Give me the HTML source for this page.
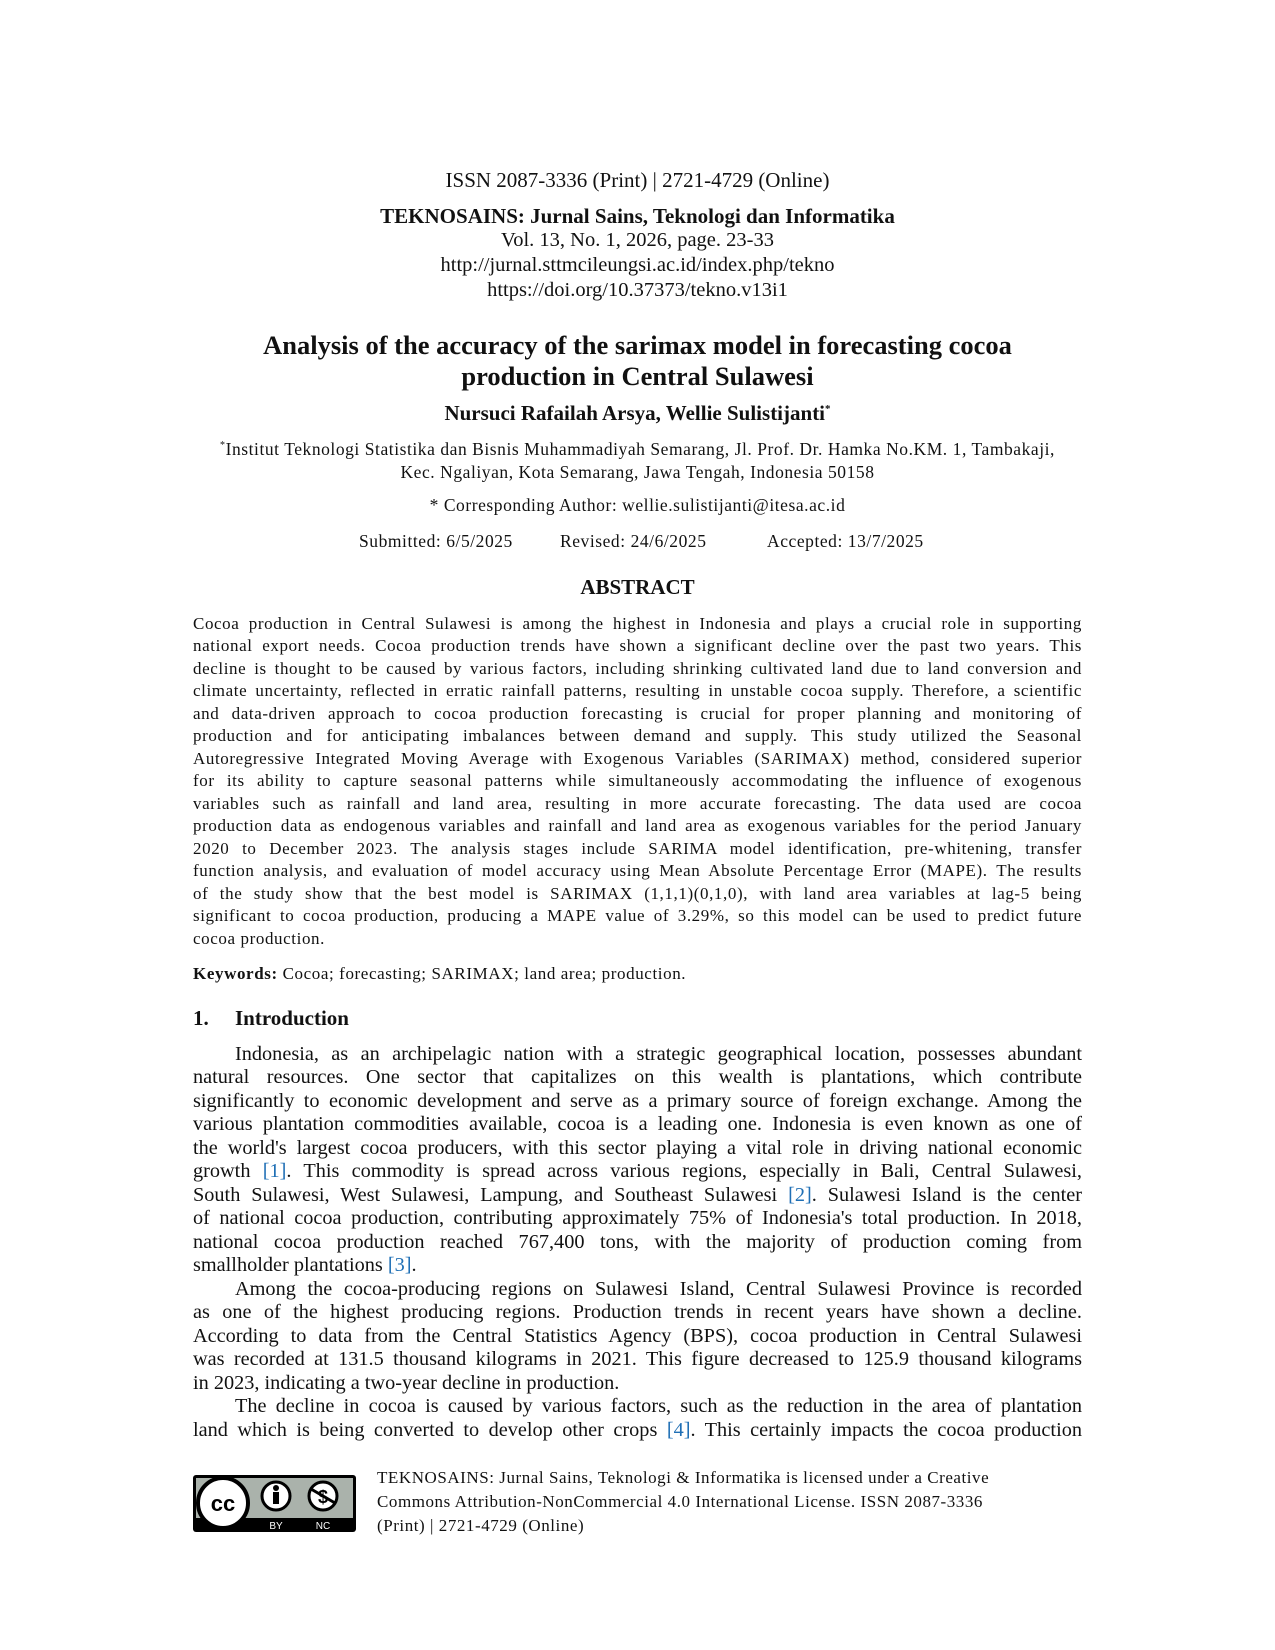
<!DOCTYPE html>
<html><head><meta charset="utf-8"><style>
body{margin:0;background:#fff;}
.p{position:relative;width:1275px;height:1650px;overflow:hidden;font-family:"Liberation Serif",serif;color:#111;}
.l{position:absolute;white-space:nowrap;}
.c{left:0;width:1275px;text-align:center;}
.a{left:193px;width:889px;font-size:17px;letter-spacing:0.6px;line-height:20px;text-align:justify;text-align-last:justify;}
.b{left:193px;width:889px;font-size:20.3px;line-height:22px;text-align:justify;text-align-last:justify;}
.i{left:235px;width:847px;}
.n{text-align-last:left;}
.r{color:#1f6fb5;}
.f{left:377px;font-size:17px;letter-spacing:0.55px;line-height:20px;}
.s{font-size:17.5px;letter-spacing:0.55px;}
</style></head><body><div class="p">
<div class="l c" style="top:168px;font-size:21px;">ISSN 2087-3336 (Print) | 2721-4729 (Online)</div>
<div class="l c" style="top:204px;font-size:21px;font-weight:bold;">TEKNOSAINS: Jurnal Sains, Teknologi dan Informatika</div>
<div class="l c" style="top:229px;font-size:20.5px;">Vol. 13, No. 1, 2026, page. 23-33</div>
<div class="l c" style="top:254px;font-size:20.5px;">http://jurnal.sttmcileungsi.ac.id/index.php/tekno</div>
<div class="l c" style="top:279px;font-size:20.5px;">https://doi.org/10.37373/tekno.v13i1</div>
<div class="l c" style="top:330px;font-size:26.5px;font-weight:bold;">Analysis of the accuracy of the sarimax model in forecasting cocoa</div>
<div class="l c" style="top:361px;font-size:26.5px;font-weight:bold;">production in Central Sulawesi</div>
<div class="l c" style="top:401px;font-size:21px;font-weight:bold;">Nursuci Rafailah Arsya, Wellie Sulistijanti<sup style="font-size:11px">*</sup></div>
<div class="l c s" style="top:439px;"><sup style="font-size:10px">*</sup>Institut Teknologi Statistika dan Bisnis Muhammadiyah Semarang, Jl. Prof. Dr. Hamka No.KM. 1, Tambakaji,</div>
<div class="l c s" style="top:462px;">Kec. Ngaliyan, Kota Semarang, Jawa Tengah, Indonesia 50158</div>
<div class="l c s" style="top:495px;">* Corresponding Author: wellie.sulistijanti@itesa.ac.id</div>
<div class="l s" style="top:531px;left:359px;">Submitted: 6/5/2025</div>
<div class="l s" style="top:531px;left:560px;">Revised: 24/6/2025</div>
<div class="l s" style="top:531px;left:767px;">Accepted: 13/7/2025</div>
<div class="l c" style="top:575px;font-size:21px;font-weight:bold;">ABSTRACT</div>
<div class="l a" style="top:614px">Cocoa production in Central Sulawesi is among the highest in Indonesia and plays a crucial role in supporting</div>
<div class="l a" style="top:636px">national export needs. Cocoa production trends have shown a significant decline over the past two years. This</div>
<div class="l a" style="top:659px">decline is thought to be caused by various factors, including shrinking cultivated land due to land conversion and</div>
<div class="l a" style="top:681px">climate uncertainty, reflected in erratic rainfall patterns, resulting in unstable cocoa supply. Therefore, a scientific</div>
<div class="l a" style="top:704px">and data-driven approach to cocoa production forecasting is crucial for proper planning and monitoring of</div>
<div class="l a" style="top:726px">production and for anticipating imbalances between demand and supply. This study utilized the Seasonal</div>
<div class="l a" style="top:749px">Autoregressive Integrated Moving Average with Exogenous Variables (SARIMAX) method, considered superior</div>
<div class="l a" style="top:771px">for its ability to capture seasonal patterns while simultaneously accommodating the influence of exogenous</div>
<div class="l a" style="top:794px">variables such as rainfall and land area, resulting in more accurate forecasting. The data used are cocoa</div>
<div class="l a" style="top:816px">production data as endogenous variables and rainfall and land area as exogenous variables for the period January</div>
<div class="l a" style="top:839px">2020 to December 2023. The analysis stages include SARIMA model identification, pre-whitening, transfer</div>
<div class="l a" style="top:861px">function analysis, and evaluation of model accuracy using Mean Absolute Percentage Error (MAPE). The results</div>
<div class="l a" style="top:884px">of the study show that the best model is SARIMAX (1,1,1)(0,1,0), with land area variables at lag-5 being</div>
<div class="l a" style="top:906px">significant to cocoa production, producing a MAPE value of 3.29%, so this model can be used to predict future</div>
<div class="l a n" style="top:929px">cocoa production.</div>
<div class="l a n" style="top:964px"><b>Keywords:</b> Cocoa; forecasting; SARIMAX; land area; production.</div>
<div class="l" style="top:1006px;left:193px;font-size:21px;font-weight:bold;">1.</div>
<div class="l" style="top:1006px;left:235px;font-size:21px;font-weight:bold;">Introduction</div>
<div class="l b i" style="top:1043px">Indonesia, as an archipelagic nation with a strategic geographical location, possesses abundant</div>
<div class="l b" style="top:1066px">natural resources. One sector that capitalizes on this wealth is plantations, which contribute</div>
<div class="l b" style="top:1090px">significantly to economic development and serve as a primary source of foreign exchange. Among the</div>
<div class="l b" style="top:1113px">various plantation commodities available, cocoa is a leading one. Indonesia is even known as one of</div>
<div class="l b" style="top:1137px">the world's largest cocoa producers, with this sector playing a vital role in driving national economic</div>
<div class="l b" style="top:1160px">growth <span class="r">[1]</span>. This commodity is spread across various regions, especially in Bali, Central Sulawesi,</div>
<div class="l b" style="top:1184px">South Sulawesi, West Sulawesi, Lampung, and Southeast Sulawesi <span class="r">[2]</span>. Sulawesi Island is the center</div>
<div class="l b" style="top:1207px">of national cocoa production, contributing approximately 75% of Indonesia's total production. In 2018,</div>
<div class="l b" style="top:1231px">national cocoa production reached 767,400 tons, with the majority of production coming from</div>
<div class="l b n" style="top:1254px">smallholder plantations <span class="r">[3]</span>.</div>
<div class="l b i" style="top:1278px">Among the cocoa-producing regions on Sulawesi Island, Central Sulawesi Province is recorded</div>
<div class="l b" style="top:1301px">as one of the highest producing regions. Production trends in recent years have shown a decline.</div>
<div class="l b" style="top:1325px">According to data from the Central Statistics Agency (BPS), cocoa production in Central Sulawesi</div>
<div class="l b" style="top:1348px">was recorded at 131.5 thousand kilograms in 2021. This figure decreased to 125.9 thousand kilograms</div>
<div class="l b n" style="top:1372px">in 2023, indicating a two-year decline in production.</div>
<div class="l b i" style="top:1395px">The decline in cocoa is caused by various factors, such as the reduction in the area of plantation</div>
<div class="l b" style="top:1419px">land which is being converted to develop other crops <span class="r">[4]</span>. This certainly impacts the cocoa production</div>
<svg class="l" style="left:193px;top:1475px" width="163" height="57" viewBox="0 0 163 57">
<rect x="0" y="0" width="163" height="57" rx="3" fill="#000"/>
<rect x="3" y="3" width="157" height="40" fill="#aab2ab"/>
<circle cx="30" cy="28" r="25" fill="#fff" stroke="#000" stroke-width="4"/>
<text x="30" y="36" font-family="Liberation Sans,sans-serif" font-weight="bold" font-size="22" text-anchor="middle" fill="#000">cc</text>
<circle cx="83" cy="21" r="14" fill="#fff" stroke="#000" stroke-width="3"/>
<circle cx="83" cy="13" r="3" fill="#000"/><rect x="80" y="17" width="6" height="12" fill="#000"/>
<circle cx="130" cy="21" r="14" fill="#fff" stroke="#000" stroke-width="3"/>
<text x="130" y="28" font-family="Liberation Sans,sans-serif" font-weight="bold" font-size="18" text-anchor="middle" fill="#000">$</text>
<line x1="118" y1="14" x2="142" y2="28" stroke="#000" stroke-width="3"/>
<text x="83" y="54" font-family="Liberation Sans,sans-serif" font-size="10" text-anchor="middle" fill="#fff">BY</text>
<text x="130" y="54" font-family="Liberation Sans,sans-serif" font-size="10" text-anchor="middle" fill="#fff">NC</text>
</svg>
<div class="l f" style="top:1468px">TEKNOSAINS: Jurnal Sains, Teknologi &amp; Informatika is licensed under a Creative</div>
<div class="l f" style="top:1492px">Commons Attribution-NonCommercial 4.0 International License. ISSN 2087-3336</div>
<div class="l f" style="top:1516px">(Print) | 2721-4729 (Online)</div>
</div></body></html>
